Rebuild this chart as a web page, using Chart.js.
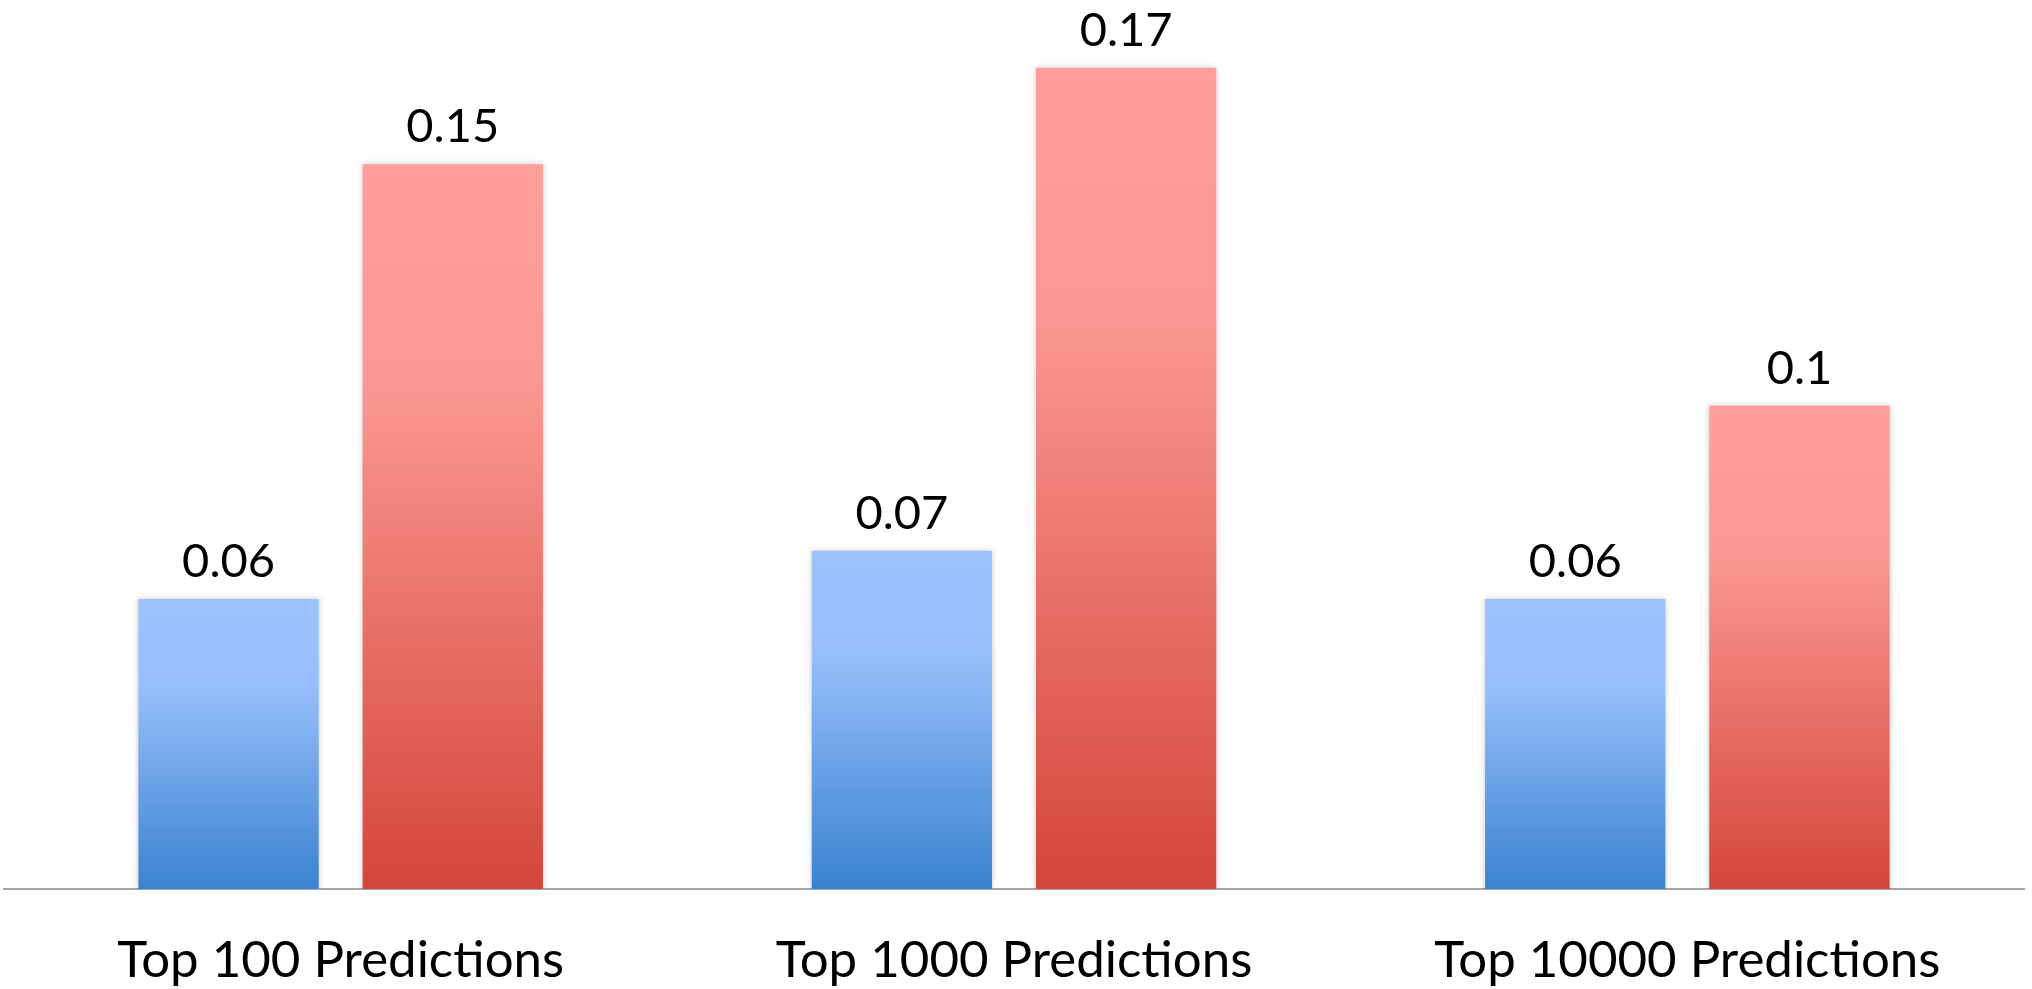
<!DOCTYPE html>
<html lang="en">
<head>
    <meta charset="UTF-8">
    <title>Top predictions</title>
    <script src="https://cdn.jsdelivr.net/npm/chart.js"></script>
    <style>
      html, body {
        margin: 0;
        padding: 0;
        background: white;
      }
      #wrap {
        width: 2032px;
        height: 989px;
      }
    </style>
</head>
<body>
  <div id="wrap">
    <canvas id="predChart" width="2032" height="989"></canvas>
  </div>

  <script>
    const categories = ['Top 100 Predictions', 'Top 1000 Predictions', 'Top 10000 Predictions'];
    const blueValues = [0.06, 0.07, 0.06];
    const redValues = [0.15, 0.17, 0.1];

    const FONT = 'Lato, "Open Sans", "Liberation Sans", sans-serif';

    // vertical gradient stretched over each bar, light at the top
    function barGradient(light, mid, dark) {
      return function (ctx) {
        const chart = ctx.chart;
        if (!chart.chartArea || ctx.type !== 'data') return light;
        const y = chart.scales.y;
        const top = y.getPixelForValue(ctx.raw);
        const base = y.getPixelForValue(0);
        const g = chart.ctx.createLinearGradient(0, top, 0, base);
        g.addColorStop(0, light);
        g.addColorStop(0.3, mid);
        g.addColorStop(1, dark);
        return g;
      };
    }

    // soft shadow around the bars
    const barShadow = {
      id: 'barShadow',
      beforeDatasetsDraw(chart) {
        const c = chart.ctx;
        c.save();
        c.shadowColor = 'rgba(0,0,0,0.22)';
        c.shadowBlur = 6;
        c.shadowOffsetX = 0;
        c.shadowOffsetY = 0;
      },
      afterDatasetsDraw(chart) {
        chart.ctx.restore();
      }
    };

    // value written above every bar
    const valueLabels = {
      id: 'valueLabels',
      afterDatasetsDraw(chart) {
        const c = chart.ctx;
        c.save();
        c.font = '47px ' + FONT;
        c.fillStyle = '#000';
        c.textAlign = 'center';
        c.textBaseline = 'alphabetic';
        chart.data.datasets.forEach((ds, i) => {
          chart.getDatasetMeta(i).data.forEach((bar, j) => {
            c.fillText(String(ds.data[j]), bar.x, bar.y - 22);
          });
        });
        c.restore();
      }
    };

    new Chart(document.getElementById('predChart'), {
      type: 'bar',
      data: {
        labels: categories,
        datasets: [
          {
            label: 'A',
            data: blueValues,
            backgroundColor: barGradient('#9dc3ff', '#97bffb', '#3a82d0'),
            borderWidth: 0
          },
          {
            label: 'B',
            data: redValues,
            backgroundColor: barGradient('#ff9e9b', '#fb9893', '#d4453a'),
            borderWidth: 0
          }
        ]
      },
      options: {
        responsive: false,
        animation: false,
        categoryPercentage: 0.666,
        barPercentage: 0.804,
        layout: {
          padding: { left: 4, right: 8, top: 0, bottom: 0 }
        },
        scales: {
          x: {
            grid: { display: false, drawTicks: false, tickLength: 0 },
            border: { display: true, color: '#a6a6a6', width: 2 },
            ticks: {
              color: '#000',
              font: { family: FONT, size: 51 },
              padding: 41,
              maxRotation: 0
            },
            afterFit(scale) {
              scale.height = 100;
            }
          },
          y: {
            display: false,
            min: 0,
            max: 0.184
          }
        },
        plugins: {
          legend: { display: false },
          tooltip: { enabled: false }
        }
      },
      plugins: [barShadow, valueLabels]
    });
  </script>
</body>
</html>
